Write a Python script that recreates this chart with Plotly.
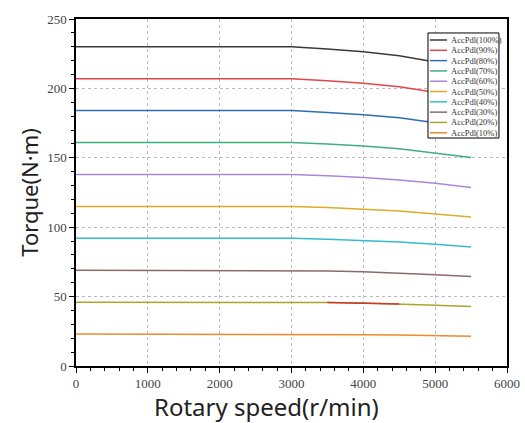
import plotly.graph_objects as go

# Rotary speed sample points (r/min)
speed = [0, 500, 1000, 1500, 2000, 2500, 3000, 3500, 4000, 4500, 5000, 5500]

# Pedal-opening series: torque vs speed, N·m
names = ["AccPdl(100%)", "AccPdl(90%)", "AccPdl(80%)", "AccPdl(70%)", "AccPdl(60%)",
         "AccPdl(50%)", "AccPdl(40%)", "AccPdl(30%)", "AccPdl(20%)", "AccPdl(10%)"]
torque_100 = [230, 230, 230, 230, 230, 230, 230, 228.4, 226.4, 223.6, 219.2, 214.6]
torque_90 = [207, 207, 207, 207, 207, 207, 207, 205.5, 203.8, 201.2, 197.3, 193.1]
torque_80 = [184, 184, 184, 184, 184, 184, 184, 182.7, 181.1, 178.8, 175.4, 171.7]
torque_70 = [161, 161, 161, 161, 161, 161, 161, 159.9, 158.5, 156.5, 153.2, 150.2]
torque_60 = [138, 138, 138, 138, 138, 138, 138, 137.0, 135.8, 134.0, 131.6, 128.6]
torque_50 = [115, 115, 115, 115, 115, 115, 115, 114.2, 113.2, 111.7, 109.6, 107.3]
torque_40 = [92, 92, 92, 92, 92, 92, 92, 91.4, 90.5, 89.4, 87.7, 85.8]
torque_30 = [69, 69, 69, 69, 69, 69, 69, 68.5, 67.9, 67.0, 65.8, 64.4]
torque_20 = [46, 46, 46, 46, 46, 46, 46, 45.7, 45.3, 44.7, 43.8, 42.9]
torque_10 = [23, 23, 23, 23, 23, 23, 23, 22.8, 22.6, 22.3, 21.9, 21.5]
series = [torque_100, torque_90, torque_80, torque_70, torque_60,
          torque_50, torque_40, torque_30, torque_20, torque_10]

colors = ["#3a3a3a", "#e0474c", "#2a6fb3", "#3fae80", "#a889d6",
          "#d9ad2a", "#35bccb", "#8c6a6a", "#a9a62a", "#ef8a2c"]

# Short red overlay segment on the 20% curve
overlay_speed = [3500, 4000, 4500]
overlay_torque = [45.7, 45.3, 44.7]

fig = go.Figure()
for name, y, c in zip(names, series, colors):
    fig.add_trace(go.Scatter(x=speed, y=y, mode="lines", name=name, showlegend=False,
                             line=dict(color=c, width=1.5)))
fig.add_trace(go.Scatter(x=overlay_speed, y=overlay_torque, mode="lines", showlegend=False,
                         line=dict(color="#c8392f", width=1.5)))

axis_common = dict(
    automargin=False,
    showline=True, linecolor="black", linewidth=1.5, mirror=True,
    ticks="outside", ticklen=5, tickwidth=1.2, tickcolor="black",
    tickfont=dict(family="Liberation Serif", size=13, color="#444"),
    showgrid=True, gridcolor="#b8b8c8", griddash="dot", gridwidth=1,
    zeroline=False,
    minor=dict(ticks="outside", ticklen=3, tickcolor="black", showgrid=False),
)

fig.update_xaxes(range=[0, 6000], dtick=1000, **axis_common)
fig.update_yaxes(range=[0, 250], dtick=50, **axis_common)

annotations = [
    dict(xref="paper", yref="paper", x=0.443, y=-0.118, text="Rotary speed(r/min)",
         showarrow=False, xanchor="center", yanchor="middle",
         font=dict(family="Noto Sans", size=24, color="#222")),
    dict(xref="paper", yref="paper", x=-0.111, y=0.5, text="Torque(N·m)",
         showarrow=False, xanchor="center", yanchor="middle", textangle=-90,
         font=dict(family="Noto Sans", size=22, color="#222")),
]

# Compact legend box drawn in paper coordinates
box_x0, box_x1, box_y0, box_y1 = 0.8167, 0.9814, 0.657, 0.9597
shapes = [dict(type="rect", xref="paper", yref="paper", x0=box_x0, x1=box_x1,
               y0=box_y0, y1=box_y1, fillcolor="white",
               line=dict(color="black", width=1), layer="above")]
row_top, row_step = 0.9395, 0.0297
for i, (name, c) in enumerate(zip(names, colors)):
    yy = row_top - i * row_step
    shapes.append(dict(type="line", xref="paper", yref="paper", x0=0.821, x1=0.861,
                       y0=yy, y1=yy, line=dict(color=c, width=1.5), layer="above"))
    annotations.append(dict(xref="paper", yref="paper", x=0.866, y=yy, text=name,
                            showarrow=False, xanchor="left", yanchor="middle",
                            font=dict(family="Liberation Serif", size=8.5, color="#333")))

fig.update_layout(
    width=525, height=423,
    margin=dict(l=76, r=18, t=19, b=57),
    paper_bgcolor="white", plot_bgcolor="white",
    showlegend=False,
    shapes=shapes, annotations=annotations,
)

fig.write_html("out.html")
